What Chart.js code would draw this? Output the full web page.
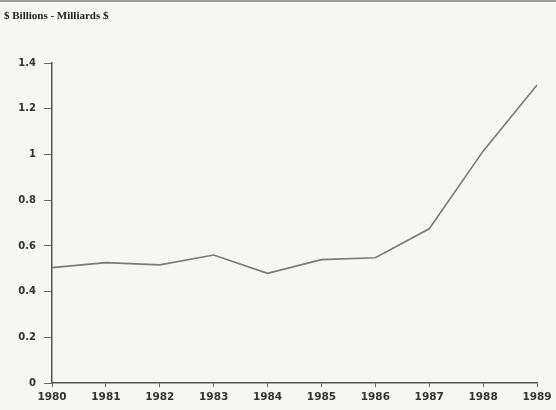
<!DOCTYPE html>
<html>
<head>
<meta charset="utf-8">
<script src="https://cdn.jsdelivr.net/npm/chart.js@4"></script>
<style>
  html, body { margin: 0; padding: 0; background: #f6f6f3; }
  #wrap { width: 556px; height: 410px; position: relative; border-top: 2px solid #9a9a9a; box-sizing: border-box; }
</style>
</head>
<body>
<div id="wrap"><canvas id="chartExports"></canvas></div>
<script>
const years = ['1980', '1981', '1982', '1983', '1984', '1985', '1986', '1987', '1988', '1989'];
const values = [0.505, 0.527, 0.517, 0.56, 0.48, 0.54, 0.548, 0.675, 1.015, 1.305];
const yTicks = [0, 0.2, 0.4, 0.6, 0.8, 1, 1.2, 1.4];

Chart.defaults.color = '#333333';
Chart.defaults.font.family = 'DejaVu Sans';

const ctx = document.getElementById('chartExports').getContext('2d');
const chart = new Chart(ctx, {
    type: 'line',
    data: {
        labels: years,
        datasets: [
            {
                label: '$ Billions',
                data: values,
                borderColor: '#7a7a7a',
                borderWidth: 1.6,
                backgroundColor: 'transparent',
                pointRadius: 0,
                tension: 0
            }
        ]
    },
    options: {
        responsive: true,
        maintainAspectRatio: false,
        animation: false,
        layout: {
            padding: { left: 4, right: 19, top: 0, bottom: 0 }
        },
        plugins: {
            legend: { display: false },
            tooltip: { enabled: false },
            title: {
                display: true,
                text: '$ Billions - Milliards $',
                align: 'start',
                color: '#222222',
                font: { family: 'Liberation Serif', size: 11, weight: 'bold' },
                padding: { top: 8, bottom: 40 }
            }
        },
        scales: {
            y: {
                min: 0,
                max: 1.4,
                afterFit: (scale) => { scale.width = 48; },
                afterBuildTicks: (scale) => { scale.ticks = yTicks.map(v => ({ value: v })); },
                ticks: {
                    color: '#333333',
                    padding: 8,
                    font: { size: 10, weight: 'bold' },
                    callback: (v) => String(Math.round(v * 10) / 10)
                },
                grid: {
                    drawOnChartArea: false,
                    color: '#666666',
                    tickLength: 8
                },
                border: { color: '#555555', width: 1.5 }
            },
            x: {
                offset: false,
                afterFit: (scale) => { scale.height = 27; },
                ticks: {
                    color: '#333333',
                    padding: 4,
                    maxRotation: 0,
                    font: { size: 10.5, weight: 'bold' }
                },
                grid: {
                    drawOnChartArea: false,
                    color: '#666666',
                    tickLength: 4
                },
                border: { color: '#555555', width: 1.5 }
            }
        }
    }
});
</script>
</body>
</html>
